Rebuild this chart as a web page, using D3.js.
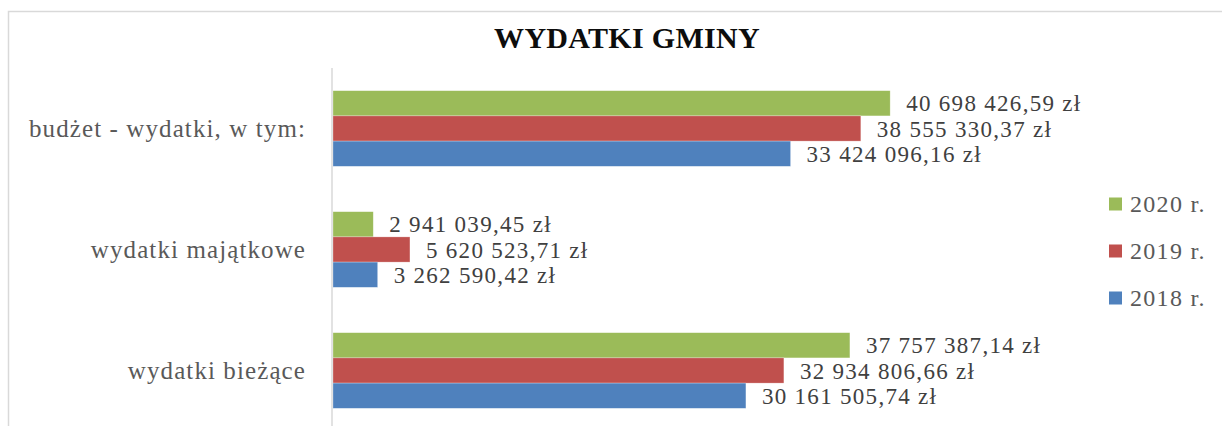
<!DOCTYPE html>
<html>
<head>
<meta charset="utf-8">
<script src="https://cdn.jsdelivr.net/npm/d3@7"></script>
<style>
  body { margin: 0; background: #fff; }
  text { font-family: "Liberation Serif", "Times New Roman", serif; }
</style>
</head>
<body>
<div id="container"></div>
<script>
const categories = ["budżet - wydatki, w tym:", "wydatki majątkowe", "wydatki bieżące"];
const years = ["2020 r.", "2019 r.", "2018 r."];
const values2020 = [40698426.59, 2941039.45, 37757387.14];
const values2019 = [38555330.37, 5620523.71, 32934806.66];
const values2018 = [33424096.16, 3262590.42, 30161505.74];
const seriesValues = [values2020, values2019, values2018];
const colors = ["#9bbb59", "#c0504d", "#4f81bd"];

const w = 1222;
const h = 426;

const fmt = function(v) {
  const parts = v.toFixed(2).split(".");
  const intPart = parts[0].replace(/\B(?=(\d{3})+(?!\d))/g, " ");
  return intPart + "," + parts[1] + " zł";
};

const svg = d3.select("#container")
              .append("svg")
              .attr("width", w)
              .attr("height", h);

// chart border (right and bottom edges fall outside the picture)
svg.append("rect")
   .attr("x", 8.5).attr("y", 11.5)
   .attr("width", w + 20).attr("height", h + 20)
   .attr("fill", "none")
   .attr("stroke", "#d9d9d9")
   .attr("stroke-width", 1.5);

svg.append("text")
   .attr("x", 627).attr("y", 48)
   .attr("text-anchor", "middle")
   .attr("font-size", 30)
   .attr("font-weight", "bold")
   .attr("letter-spacing", 0.3)
   .attr("fill", "#0d0d0d")
   .text("WYDATKI GMINY");

var xScale = d3.scaleLinear()
               .domain([0, 45000000])
               .range([333, 333 + 45 * 13.69]);

var yScale = d3.scaleBand()
               .domain(categories)
               .range([68, 431])
               .paddingInner(0.375)
               .paddingOuter(0.1875);

var ySub = d3.scaleBand()
             .domain(years)
             .range([0, yScale.bandwidth()]);

const rows = [];
categories.forEach(function(c, ci) {
  years.forEach(function(y, si) {
    rows.push({cat: c, year: y, value: seriesValues[si][ci], color: colors[si]});
  });
});

svg.selectAll("rect.bar")
   .data(rows)
   .enter()
   .append("rect")
   .attr("class", "bar")
   .attr("x", xScale(0))
   .attr("y", d => yScale(d.cat) + ySub(d.year))
   .attr("width", d => xScale(d.value) - xScale(0))
   .attr("height", ySub.bandwidth())
   .attr("fill", d => d.color)
   .attr("stroke", "rgba(255,255,255,0.45)")
   .attr("stroke-width", 0.6);

svg.selectAll("text.val")
   .data(rows)
   .enter()
   .append("text")
   .attr("class", "val")
   .attr("x", d => xScale(d.value) + 16)
   .attr("y", d => yScale(d.cat) + ySub(d.year) + ySub.bandwidth() / 2 + 8)
   .attr("font-size", 23)
   .attr("letter-spacing", 1.3)
   .attr("fill", "#404040")
   .text(d => fmt(d.value));

// vertical category axis line
svg.append("line")
   .attr("x1", 332).attr("x2", 332)
   .attr("y1", 68).attr("y2", h)
   .attr("stroke", "#d9d9d9")
   .attr("stroke-width", 1.5);

svg.selectAll("text.cat")
   .data(categories)
   .enter()
   .append("text")
   .attr("class", "cat")
   .attr("x", 306)
   .attr("y", d => yScale(d) + yScale.bandwidth() / 2 + 8.5)
   .attr("text-anchor", "end")
   .attr("font-size", 25)
   .attr("letter-spacing", 1.1)
   .attr("fill", "#595959")
   .text(d => d);

const legend = svg.selectAll("g.leg")
                  .data(years)
                  .enter()
                  .append("g")
                  .attr("class", "leg")
                  .attr("transform", (d, i) => "translate(1109," + (204 + i * 47) + ")");

legend.append("rect")
      .attr("x", 0).attr("y", -6.5)
      .attr("width", 13).attr("height", 13)
      .attr("fill", (d, i) => colors[i]);

legend.append("text")
      .attr("x", 21).attr("y", 8)
      .attr("font-size", 24)
      .attr("letter-spacing", 1.3)
      .attr("fill", "#595959")
      .text(d => d);
</script>
</body>
</html>
